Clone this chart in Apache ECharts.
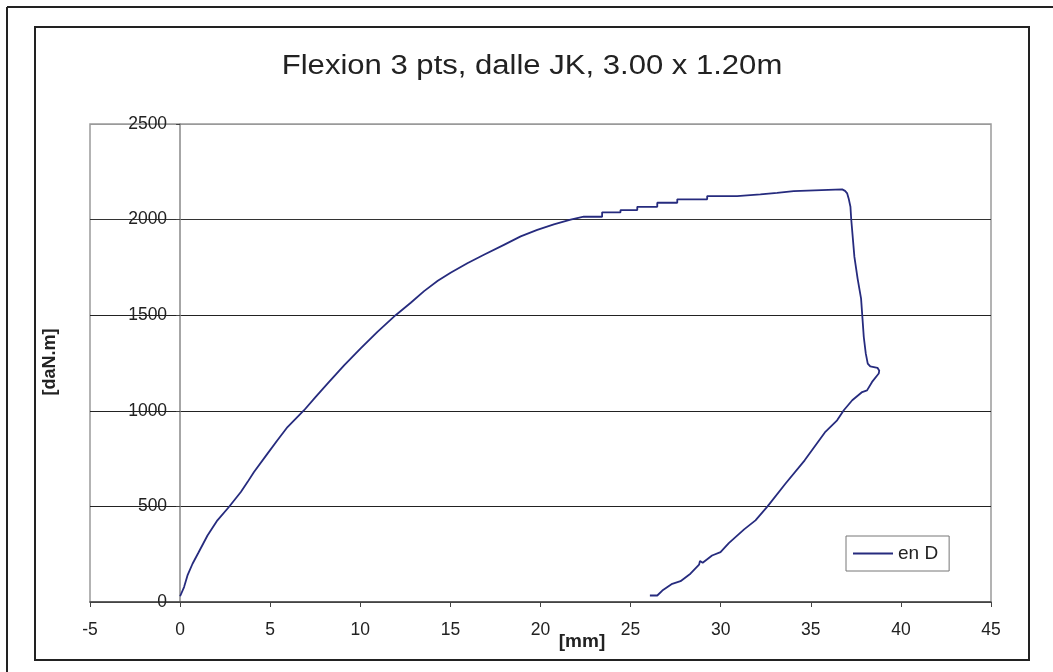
<!DOCTYPE html>
<html>
<head>
<meta charset="utf-8">
<script src="https://cdn.jsdelivr.net/npm/echarts@6/dist/echarts.min.js"></script>
<style>
html,body{margin:0;padding:0;background:#fff;}
#c{width:1053px;height:672px;}
</style>
</head>
<body>
<div id="c"></div>
<script>
var titleText = 'Flexion 3 pts, dalle JK, 3.00 x 1.20m';
var seriesName = 'en D';
var xAxisName = '[mm]';
var yAxisName = '[daN.m]';
var xTicks = { min: -5, max: 45, interval: 5 };
var yTicks = { min: 0, max: 2500, interval: 500 };

// deflection [mm]
var deflection = [
  0, 0.04, 0.22, 0.41, 0.69, 1.0, 1.52, 2.07, 2.72, 3.37, 3.74, 4.1, 4.85, 5.4, 5.96, 6.88, 7.5, 8.18, 9.1, 10.02, 10.95, 11.96, 12.8, 13.54, 14.3, 15.01, 15.94, 16.86, 17.97, 18.9, 19.82, 20.74, 21.67,
  22.4, 23.42, 23.42, 24.44, 24.44, 25.37, 25.37, 26.48, 26.48, 27.59, 27.59, 29.25, 29.25, 30.91, 30.91, 32.2, 32.2, 33.13, 33.13, 34.05, 34.05, 36.74,
  36.9, 37.02, 37.1, 37.2, 37.24, 37.42, 37.6, 37.79, 37.94, 38.05, 38.16, 38.3, 38.4, 38.7, 38.8, 38.77, 38.4, 38.12, 37.85, 37.3, 36.83, 36.46, 35.78, 34.66, 33.6, 32.6,
  31.93, 31.3, 30.45, 29.99, 29.52, 29.0, 28.85, 28.8, 28.88, 28.32, 27.77, 27.31, 26.76, 26.48, 26.07
];
// moment [daN.m]
var moment = [
  30, 39, 78, 139, 200, 255, 348, 427, 498, 575, 627, 680, 776, 846, 915, 1003, 1070, 1142, 1238, 1326, 1413, 1500, 1565, 1626, 1680, 1722, 1772, 1816, 1868, 1912, 1946, 1975, 2000,
  2015, 2015, 2038, 2038, 2050, 2050, 2067, 2067, 2088, 2088, 2106, 2106, 2123, 2123, 2132, 2132, 2140, 2140, 2149, 2149, 2158, 2158,
  2150, 2137, 2111, 2067, 2006, 1805, 1690, 1587, 1386, 1300, 1247, 1232, 1229, 1225, 1210, 1195, 1151, 1107, 1098, 1055, 1003, 950, 887, 741, 620, 500,
  427, 380, 308, 261, 243, 205, 215, 195, 203, 148, 109, 95, 60, 34, 34
];

var points = deflection.map(function (x, i) { return [x, moment[i]]; });

var W = 1053, H = 672;
var gridLeft = 90, gridRight = 62, gridTop = 124, gridBottom = 70;
var plotW = W - gridLeft - gridRight;
// shift the value axis so it sits on x = 0, like the original
var yAxisOffset = -plotW * (0 - xTicks.min) / (xTicks.max - xTicks.min);

var chart = echarts.init(document.getElementById('c'), null, { renderer: 'canvas' });
var font = '"Liberation Sans", Arial, sans-serif';
chart.setOption({
  backgroundColor: '#fff',
  animation: false,
  grid: { left: gridLeft, right: gridRight, top: gridTop, bottom: gridBottom, show: true, borderColor: '#9a9a9a', borderWidth: 1.5 },
  legend: {
    data: [{ name: seriesName, icon: 'rect' }],
    left: 846, top: 536,
    orient: 'vertical',
    backgroundColor: '#fff',
    borderColor: '#777', borderWidth: 1,
    padding: [8, 11, 8, 7],
    itemWidth: 40, itemHeight: 2, itemGap: 5,
    textStyle: { fontFamily: font, fontSize: 19, color: '#222' }
  },
  xAxis: {
    type: 'value',
    min: xTicks.min, max: xTicks.max, interval: xTicks.interval,
    axisLine: { show: true, onZero: true, lineStyle: { color: '#444', width: 1.5 } },
    axisTick: { show: true, inside: false, length: 5, lineStyle: { color: '#444' } },
    axisLabel: { fontFamily: font, fontSize: 17.5, color: '#222', margin: 19 },
    splitLine: { show: false }
  },
  yAxis: {
    type: 'value',
    min: yTicks.min, max: yTicks.max, interval: yTicks.interval,
    offset: yAxisOffset,
    axisLine: { show: true, onZero: false, lineStyle: { color: '#888', width: 1.5 } },
    axisTick: { show: true, inside: false, length: 4, lineStyle: { color: '#444' } },
    axisLabel: { fontFamily: font, fontSize: 17.5, color: '#222', margin: 13, formatter: function (v) { return String(v); } },
    splitLine: { show: true, lineStyle: { color: ['#444', '#222', '#222', '#222', '#333', '#9a9a9a'], width: 1.2 } }
  },
  graphic: [
    { type: 'rect', shape: { x: 35, y: 27, width: 994, height: 633 }, style: { fill: 'none', stroke: '#222', lineWidth: 2 }, silent: true },
    { type: 'line', shape: { x1: 7, y1: 7, x2: 1053, y2: 7 }, style: { stroke: '#222', lineWidth: 2 }, silent: true },
    { type: 'line', shape: { x1: 7, y1: 7, x2: 7, y2: 672 }, style: { stroke: '#222', lineWidth: 2 }, silent: true },
    { type: 'text', x: 532, y: 67, scaleX: 1.15, scaleY: 1, style: { text: titleText, font: '27px ' + font, fill: '#222', align: 'center', verticalAlign: 'middle' }, silent: true },
    { type: 'text', x: 582, y: 642, style: { text: xAxisName, font: 'bold 19px ' + font, fill: '#222', align: 'center', verticalAlign: 'middle' }, silent: true },
    { type: 'text', x: 50, y: 362, rotation: Math.PI / 2, style: { text: yAxisName, font: 'bold 18px ' + font, fill: '#222', align: 'center', verticalAlign: 'middle' }, silent: true }
  ],
  series: [{
    name: seriesName,
    type: 'line',
    data: points,
    symbol: 'none',
    showSymbol: false,
    smooth: false,
    lineStyle: { color: '#262b7e', width: 1.8 },
    itemStyle: { color: '#262b7e' }
  }]
});
</script>
</body>
</html>
